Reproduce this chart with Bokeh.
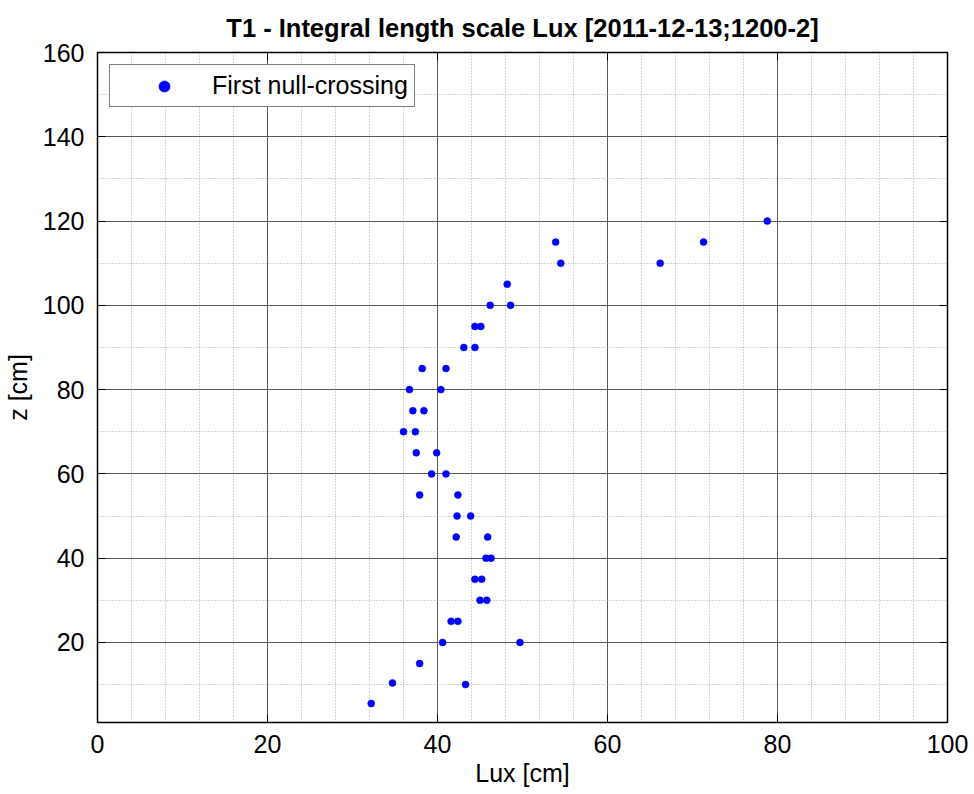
from bokeh.plotting import figure
from bokeh.models import (FixedTicker, LinearAxis, Range1d, Legend, LegendItem,
                          ColumnDataSource, CustomLabelingPolicy)
from bokeh.embed import file_html
from bokeh.resources import INLINE

# Data
lux = [78.8, 71.3, 53.9, 54.5, 66.2, 48.2, 46.2, 48.6, 44.4, 45.1,
       43.1, 44.4, 38.2, 41.0, 36.7, 40.4, 37.1, 38.4, 36.0, 37.4,
       37.5, 39.9, 39.3, 41.0, 37.9, 42.4, 42.3, 43.9, 42.2, 45.9,
       45.7, 46.3, 44.4, 45.2, 45.0, 45.8, 41.6, 42.4, 40.6, 49.7,
       37.9, 34.7, 43.3, 32.2]
z = [120, 115, 115, 110, 110, 105, 100, 100, 95, 95,
     90, 90, 85, 85, 80, 80, 75, 75, 70, 70,
     65, 65, 60, 60, 55, 55, 50, 50, 45, 45,
     40, 40, 35, 35, 30, 30, 25, 25, 20, 20,
     15, 10.4, 10, 5.5]

x_ticks = [0, 20, 40, 60, 80, 100]
x_minor = [4, 8, 12, 16, 24, 28, 32, 36, 44, 48, 52, 56, 64, 68, 72, 76, 84, 88, 92, 96]
y_ticks = [20, 40, 60, 80, 100, 120, 140, 160]
y_minor = [10, 30, 50, 70, 90, 110, 130, 150]

FONT = "Liberation Sans"

p = figure(width=974, height=794, output_backend="svg", toolbar_location=None,
           x_range=Range1d(0, 100), y_range=Range1d(1, 160),
           min_border_left=97, min_border_right=27, min_border_top=52, min_border_bottom=72,
           title="T1 - Integral length scale Lux [2011-12-13;1200-2]")

p.title.text_font = FONT
p.title.text_font_size = "25.5px"
p.title.text_font_style = "bold"
p.title.align = "center"
p.title.text_color = "black"
p.title.standoff = 6

p.outline_line_color = "black"
p.outline_line_width = 1.5
p.background_fill_color = "white"
p.border_fill_color = "white"

xt = FixedTicker(ticks=x_ticks, minor_ticks=x_minor)
yt = FixedTicker(ticks=y_ticks, minor_ticks=y_minor)

for ax in p.xaxis:
    ax.ticker = xt
for ax in p.yaxis:
    ax.ticker = yt

p.xgrid.ticker = xt
p.ygrid.ticker = yt
for g in (p.xgrid, p.ygrid):
    g.grid_line_color = "#5a5a5a"
    g.grid_line_width = 1
    g.minor_grid_line_color = "#a8a8a8"
    g.minor_grid_line_dash = "1 2"
    g.minor_grid_line_width = 1

HIDE = "const n = indices.size; for (let i = 0; i < n; i++) { indices.unset(i) } return indices"

def style_axis(ax, show_labels=True):
    ax.major_tick_in = 8
    ax.major_tick_out = 0
    ax.minor_tick_line_color = None
    ax.major_tick_line_color = "black"
    ax.axis_line_color = "black"
    ax.major_label_text_font = FONT
    ax.major_label_text_color = "black"
    ax.axis_label_text_font = FONT
    ax.axis_label_text_font_style = "normal"
    ax.axis_label_text_color = "black"
    if show_labels:
        ax.major_label_text_font_size = "25px"
        ax.axis_label_text_font_size = "25px"
    else:
        ax.major_label_text_font_size = "1px"
        ax.major_label_standoff = 0
        ax.major_label_policy = CustomLabelingPolicy(code=HIDE)

p.xaxis.axis_label = "Lux [cm]"
p.yaxis.axis_label = "z [cm]"
style_axis(p.xaxis[0])
style_axis(p.yaxis[0])
p.xaxis[0].major_label_standoff = 8
p.xaxis[0].axis_label_standoff = 3
p.yaxis[0].major_label_standoff = 9
p.yaxis[0].axis_label_standoff = 8

ax_r = LinearAxis(ticker=yt)
style_axis(ax_r, show_labels=False)
p.add_layout(ax_r, "right")
ax_t = LinearAxis(ticker=xt)
style_axis(ax_t, show_labels=False)
p.add_layout(ax_t, "above")

src = ColumnDataSource(dict(lux=lux, z=z))
r = p.scatter("lux", "z", source=src, size=7, fill_color="#0000ff", line_color="#0000ff",
              line_width=0.5)

legend = Legend(items=[LegendItem(label="First null-crossing", renderers=[r])],
                location="top_left")
legend.label_text_font = FONT
legend.label_text_font_size = "25px"
legend.label_text_color = "black"
legend.border_line_color = "black"
legend.border_line_width = 1
legend.background_fill_color = "white"
legend.background_fill_alpha = 1
legend.padding = 6
legend.margin = 12
legend.glyph_width = 96
legend.glyph_height = 28
legend.label_height = 28
legend.label_standoff = 0
p.add_layout(legend)

open("out.html", "w").write(file_html(p, INLINE))
